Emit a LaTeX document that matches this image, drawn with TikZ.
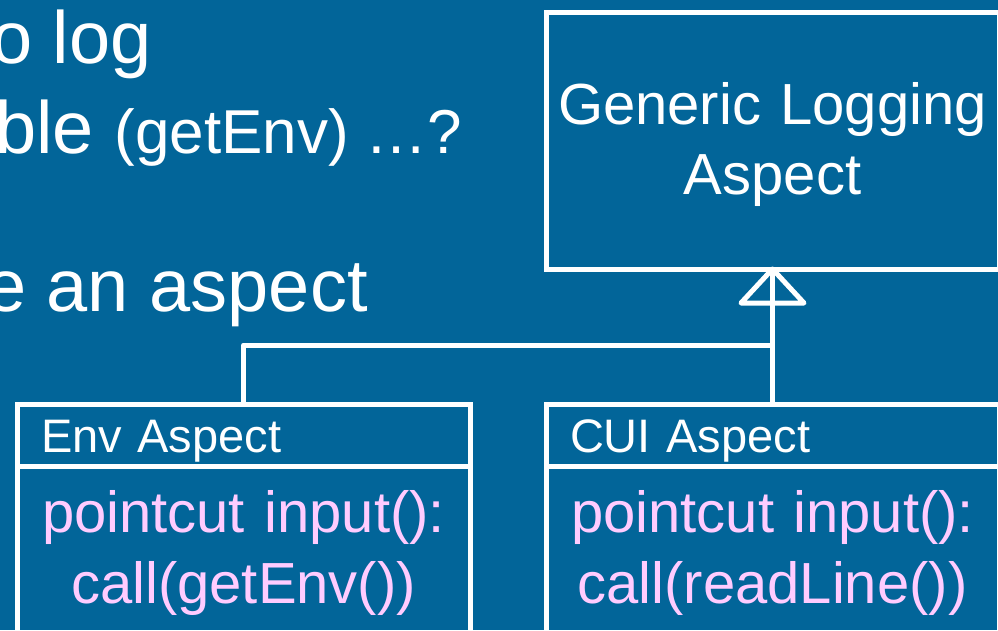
\documentclass[tikz,border=0pt]{standalone}
\usepackage{fontspec}
\setmainfont{Liberation Sans}
\usepackage{tikz}
\usetikzlibrary{positioning}
\definecolor{slideblue}{RGB}{2,101,153}
\definecolor{codepink}{RGB}{255,204,255}

\begin{document}
\begin{tikzpicture}[x=1pt,y=-1pt,
    box/.style={draw=white,line width=5pt,outer sep=0pt,inner sep=0pt},
    headbox/.style={box,text=white,minimum height=62pt,text width=405pt,
      inner xsep=24pt,align=left,font=\fontsize{47}{56}\selectfont,
      text height=44pt,text depth=10pt},
    bodybox/.style={box,text=codepink,minimum height=173pt,text width=453pt,
      align=center,font=\fontsize{58}{71}\selectfont},
    link/.style={draw=white,line width=5pt,line join=round},
    bullet/.style={anchor=base west,inner sep=0pt,text=white,
      font=\fontsize{74}{88}\selectfont}]
      \useasboundingbox (0,0) rectangle (998,630);
      \fill[slideblue] (0,0) rectangle (998,630);
      \clip (0,0) rectangle (998,630);

      \node[bullet](line1) at (-9,63){o log};
      \node[bullet](line2) at (-5,153){ble {\fontsize{62}{74}\selectfont(getEnv) …?}};
      \node[bullet](line3) at (-15,311){e an aspect};

      \node[box,text=white,minimum width=453pt,minimum height=257pt,
        text width=453pt,align=center,font=\fontsize{58}{70}\selectfont,
        text height=51pt](generic) at (772.5,140.5){Generic Logging\\Aspect};
      \node[headbox,below=135pt of generic](cuihead){CUI Aspect};
      \node[bodybox,below=0pt of cuihead](cuibody){pointcut input():\\call(readLine())};
      \node[headbox,left=76pt of cuihead](envhead){Env Aspect};
      \node[bodybox,below=0pt of envhead](envbody){pointcut input():\\call(getEnv())};
      \coordinate[below=76pt of generic.south](join);

      \draw[link] (cuihead) -- (generic);
      \draw[link] (envhead) |- (join);
      \draw[link] (generic.south) -- ++(-31.5,34) -- ++(63,0) -- cycle;

\end{tikzpicture}
\end{document}
